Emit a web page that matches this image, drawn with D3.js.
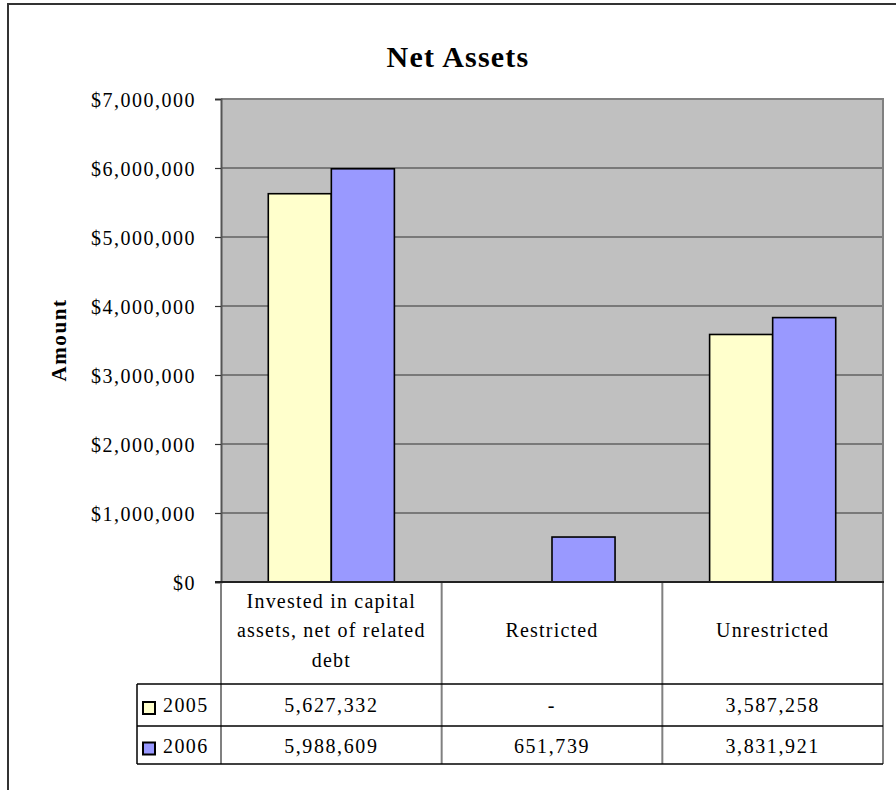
<!DOCTYPE html>
<html>
<head>
<meta charset="utf-8">
<script src="https://cdn.jsdelivr.net/npm/d3@7"></script>
<style>
  html, body { margin: 0; padding: 0; background: #fff; }
  svg { display: block; }
  svg text { font-family: "Liberation Serif", "Times New Roman", Times, serif; }
</style>
</head>
<body>
<svg id="chart" width="896" height="790"></svg>
<script>
const categories = ["Invested in capital assets, net of related debt", "Restricted", "Unrestricted"];
const categoryLines = [["Invested in capital", "assets, net of related", "debt"], ["Restricted"], ["Unrestricted"]];
const seriesNames = ["2005", "2006"];
const values2005 = [5627332, null, 3587258];
const values2006 = [5988609, 651739, 3831921];
const tableLabels2005 = ["5,627,332", "-", "3,587,258"];
const tableLabels2006 = ["5,988,609", "651,739", "3,831,921"];
const yTicks = [0, 1000000, 2000000, 3000000, 4000000, 5000000, 6000000, 7000000];
const colors = ["#FFFFCC", "#9999FF"];

const series = [
  { name: seriesNames[0], values: values2005, labels: tableLabels2005, color: colors[0] },
  { name: seriesNames[1], values: values2006, labels: tableLabels2006, color: colors[1] }
];

const FONT = "'Liberation Serif', 'Times New Roman', Times, serif";
const svg = d3.select("#chart");

// layout
const plot = { left: 221, right: 883, top: 99, bottom: 582 };
const table = { legendLeft: 137, catBottom: 684, row1Bottom: 726, row2Bottom: 764 };

// outer border (extends past canvas)
svg.append("rect").attr("x", 8).attr("y", 4).attr("width", 1000).attr("height", 1000)
  .attr("fill", "none").attr("stroke", "#333").attr("stroke-width", 2);

// title
svg.append("text").attr("x", 458).attr("y", 67).attr("text-anchor", "middle")
  .attr("font-family", FONT)
  .attr("font-size", 30).attr("font-weight", "bold").attr("letter-spacing", 1.2)
  .attr("fill", "#000").text("Net Assets");

const y = d3.scaleLinear().domain([0, 7000000]).range([plot.bottom, plot.top]);
const x0 = d3.scaleBand().domain(categories).range([plot.left, plot.right]).paddingInner(0).paddingOuter(0);
const x1 = d3.scaleBand().domain(seriesNames).range([0, x0.bandwidth()]).paddingInner(0).paddingOuter(0.75);

// plot background
svg.append("rect").attr("x", plot.left).attr("y", plot.top)
  .attr("width", plot.right - plot.left).attr("height", plot.bottom - plot.top)
  .attr("fill", "#C0C0C0");

// gridlines
svg.append("g").selectAll("line").data(yTicks.filter(d => d > 0 && d < 7000000)).join("line")
  .attr("x1", plot.left).attr("x2", plot.right)
  .attr("y1", d => y(d)).attr("y2", d => y(d))
  .attr("stroke", "#333").attr("stroke-width", 1.2);

// plot top & right border
svg.append("line").attr("x1", plot.left).attr("x2", plot.right + 1).attr("y1", plot.top).attr("y2", plot.top)
  .attr("stroke", "#808080").attr("stroke-width", 2);
svg.append("line").attr("x1", plot.right).attr("x2", plot.right).attr("y1", plot.top).attr("y2", plot.bottom)
  .attr("stroke", "#808080").attr("stroke-width", 2);

// bars
const groups = svg.append("g").selectAll("g").data(series).join("g");
groups.selectAll("rect").data(s => s.values.map((v, i) => ({ v, cat: categories[i], s })))
  .join("rect")
  .filter(d => d.v != null && d.v > 0)
  .attr("x", d => x0(d.cat) + x1(d.s.name))
  .attr("y", d => y(d.v))
  .attr("width", x1.bandwidth())
  .attr("height", d => y(0) - y(d.v))
  .attr("fill", d => d.s.color)
  .attr("stroke", "#000").attr("stroke-width", 1.6);

// y axis
const yAxis = d3.axisLeft(y).tickValues(yTicks).tickSize(6).tickPadding(19)
  .tickFormat(d => "$" + d3.format(",")(d));
const ya = svg.append("g").attr("transform", `translate(${plot.left},0)`).call(yAxis)
  .attr("font-family", FONT);
ya.select(".domain").attr("stroke", "#555").attr("stroke-width", 2);
ya.selectAll(".tick line").attr("stroke", "#333").attr("stroke-width", 1.2);
ya.selectAll(".tick text").attr("font-size", 20).attr("letter-spacing", 1.5)
  .attr("fill", "#000").attr("font-family", FONT).attr("dy", "0.35em");

// y axis title
svg.append("text").attr("transform", "translate(66,340) rotate(-90)")
  .attr("font-family", FONT)
  .attr("text-anchor", "middle").attr("font-size", 21).attr("font-weight", "bold")
  .attr("letter-spacing", 1.6).text("Amount");

// data table
const tg = svg.append("g");
// vertical lines
const vx = [plot.left, ...categories.slice(1).map(c => x0(c)), plot.right];
vx.forEach(vxx => {
  tg.append("line").attr("x1", vxx).attr("x2", vxx).attr("y1", plot.bottom).attr("y2", table.row2Bottom)
    .attr("stroke", "#808080").attr("stroke-width", 2);
});
// legend column left border
tg.append("line").attr("x1", table.legendLeft).attr("x2", table.legendLeft)
  .attr("y1", table.catBottom).attr("y2", table.row2Bottom).attr("stroke", "#000").attr("stroke-width", 1.5);
// horizontal lines
[table.catBottom, table.row1Bottom, table.row2Bottom].forEach(hy => {
  tg.append("line").attr("x1", table.legendLeft).attr("x2", plot.right).attr("y1", hy).attr("y2", hy)
    .attr("stroke", "#000").attr("stroke-width", 1.5);
});
// x axis line
svg.append("line").attr("x1", plot.left - 6).attr("x2", plot.right + 1).attr("y1", plot.bottom).attr("y2", plot.bottom)
  .attr("stroke", "#222").attr("stroke-width", 2);

// category labels
const lineH = 29.5;
categories.forEach((c, i) => {
  const lines = categoryLines[i];
  const cx = x0(c) + x0.bandwidth() / 2;
  const midBase = 637;
  const startBase = midBase - (lines.length - 1) / 2 * lineH;
  lines.forEach((ln, j) => {
    tg.append("text").attr("x", cx).attr("y", startBase + j * lineH).attr("text-anchor", "middle")
      .attr("font-family", FONT)
      .attr("font-size", 20).attr("letter-spacing", 1.2).text(ln);
  });
});

// rows
const rowBase = [712, 753];
series.forEach((s, si) => {
  const keyY = si === 0 ? 702 : 742.5;
  tg.append("rect").attr("x", 143).attr("y", keyY).attr("width", 12).attr("height", 12)
    .attr("fill", s.color).attr("stroke", "#000").attr("stroke-width", 2);
  tg.append("text").attr("x", 163).attr("y", rowBase[si]).attr("font-size", 20)
    .attr("font-family", FONT)
    .attr("letter-spacing", 1.4).text(s.name);
  s.labels.forEach((lab, i) => {
    tg.append("text").attr("x", x0(categories[i]) + x0.bandwidth() / 2).attr("y", rowBase[si])
      .attr("font-family", FONT)
      .attr("text-anchor", "middle").attr("font-size", 20).attr("letter-spacing", 1.6).text(lab);
  });
});
</script>
</body>
</html>
